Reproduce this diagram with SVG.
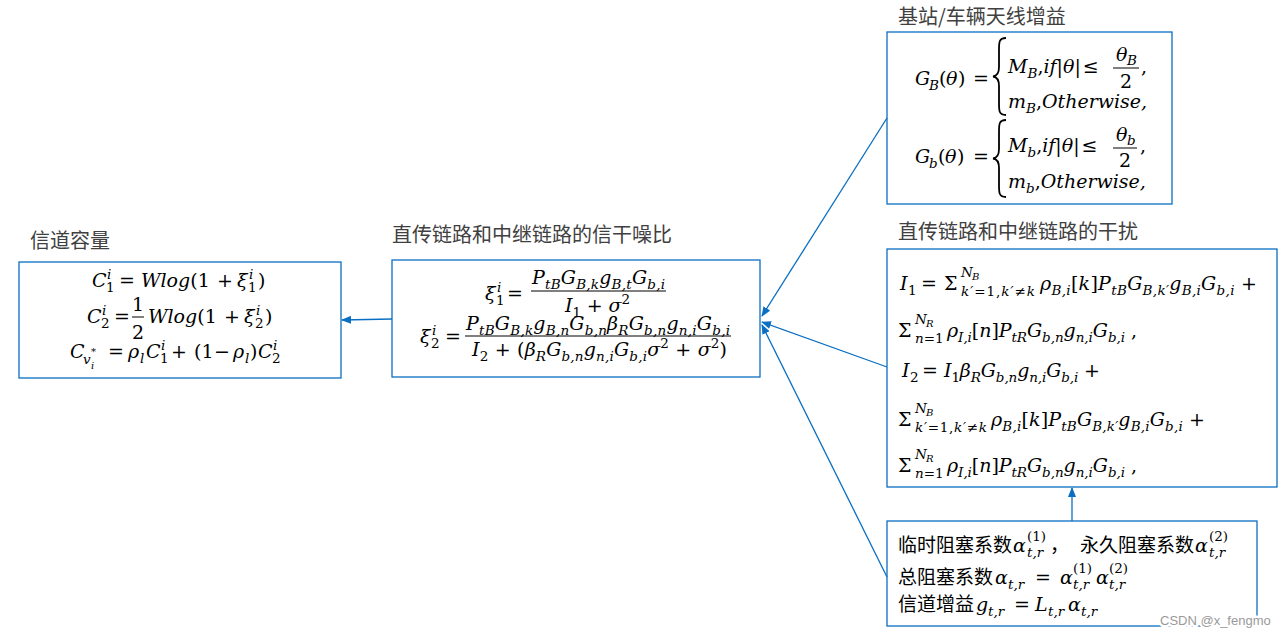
<svg xmlns="http://www.w3.org/2000/svg" width="1284" height="638" viewBox="0 0 1284 638">
<style>
.m{font-family:"DejaVu Serif","Liberation Serif",serif;font-style:italic;font-size:19px;fill:#000}
.u{font-style:normal}
.s{font-size:13.5px}
.ss{font-size:10px}
.cj{font-family:"Noto Sans CJK SC","Microsoft YaHei",sans-serif;font-size:19px;fill:#000}
.ti{font-family:"Noto Sans CJK SC","Microsoft YaHei",sans-serif;font-size:20px;fill:#404040}
.box{fill:#fff;stroke:#0a6fc2;stroke-width:1.3}
.bar{stroke:#000;stroke-width:1}
.br{fill:none;stroke:#000;stroke-width:1.8}
.cn{stroke:#0a6fc2;stroke-width:1.3;fill:none;marker-end:url(#ah)}
.wm{font-family:"Liberation Sans",Arial,sans-serif;font-size:13px;fill:#9a9a9a;stroke:#fff;stroke-width:5;paint-order:stroke;stroke-linejoin:round}
</style>
<defs>
<marker id="ah" markerUnits="userSpaceOnUse" markerWidth="10" markerHeight="8" refX="9" refY="4" orient="auto"><path d="M0,0 L10,4 L0,8 z" fill="#0a6fc2"/></marker>
</defs>
<rect width="1284" height="638" fill="#fff"/>

<g id="capacity">
<text class="ti" x="30" y="248">信道容量</text>
<rect class="box" x="19" y="262" width="322" height="116"/>
<text class="m"><tspan x="92" y="287">C</tspan><tspan class="s" x="107" y="279">i</tspan><tspan class="s u" x="106" y="292">1</tspan><tspan class="u" x="119" y="287">=</tspan><tspan x="141" y="287">Wlog</tspan><tspan class="u">(1</tspan><tspan class="u" x="217" y="287">+</tspan><tspan x="237" y="287">ξ</tspan><tspan class="s" x="249" y="279">i</tspan><tspan class="s u" x="248" y="292">1</tspan><tspan class="u" x="258" y="287">)</tspan></text>
<text class="m"><tspan x="87" y="323">C</tspan><tspan class="s" x="102" y="315">i</tspan><tspan class="s u" x="101" y="328">2</tspan><tspan class="u" x="114" y="323">=</tspan><tspan class="u" x="138" y="311" text-anchor="middle">1</tspan><tspan class="u" x="138" y="339" text-anchor="middle">2</tspan><tspan x="148" y="323">Wlog</tspan><tspan class="u">(1</tspan><tspan class="u" x="224" y="323">+</tspan><tspan x="244" y="323">ξ</tspan><tspan class="s" x="256" y="315">i</tspan><tspan class="s u" x="255" y="328">2</tspan><tspan class="u" x="265" y="323">)</tspan></text>
<line class="bar" x1="132" y1="317" x2="144" y2="317"/>
<text class="m"><tspan x="70" y="358">C</tspan><tspan class="s" x="83" y="364">v</tspan><tspan class="ss u" x="91" y="355">*</tspan><tspan class="ss" x="91" y="369">i</tspan><tspan class="u" x="108" y="358">=</tspan><tspan x="128" y="358">ρ</tspan><tspan class="s" x="140" y="363">l</tspan><tspan x="146" y="358">C</tspan><tspan class="s" x="161" y="350">i</tspan><tspan class="s u" x="160" y="363">1</tspan><tspan class="u" x="171" y="358">+</tspan><tspan class="u" x="194" y="358">(1</tspan><tspan class="u" x="214" y="358">−</tspan><tspan x="233" y="358">ρ</tspan><tspan class="s" x="245" y="363">l</tspan><tspan class="u" x="250" y="358">)</tspan><tspan x="258" y="358">C</tspan><tspan class="s" x="273" y="350">i</tspan><tspan class="s u" x="272" y="363">2</tspan></text>
</g>

<g id="sinr">
<text class="ti" x="392" y="242">直传链路和中继链路的信干噪比</text>
<rect class="box" x="392" y="260" width="368" height="117"/>
<text class="m"><tspan x="485" y="300">ξ</tspan><tspan class="s" x="497" y="292">i</tspan><tspan class="s u" x="496" y="305">1</tspan><tspan class="u" x="507" y="300">=</tspan></text>
<text class="m" x="532" y="284" textLength="133" lengthAdjust="spacing">P<tspan class="s" dy="4.5">tB</tspan><tspan dy="-4.5">G</tspan><tspan class="s" dy="4.5">B,k</tspan><tspan dy="-4.5">g</tspan><tspan class="s" dy="4.5">B,t</tspan><tspan dy="-4.5">G</tspan><tspan class="s" dy="4.5">b,i</tspan></text>
<line class="bar" x1="531" y1="291" x2="666" y2="291"/>
<text class="m" x="565" y="312" textLength="65" lengthAdjust="spacing">I<tspan class="s u" dy="5">1</tspan><tspan class="u" dy="-5"> + </tspan>σ<tspan class="s u" dy="-8">2</tspan></text>
<text class="m"><tspan x="420" y="343">ξ</tspan><tspan class="s" x="432" y="335">i</tspan><tspan class="s u" x="431" y="348">2</tspan><tspan class="u" x="445" y="343">=</tspan></text>
<text class="m" x="466" y="330" textLength="264" lengthAdjust="spacing">P<tspan class="s" dy="4.5">tB</tspan><tspan dy="-4.5">G</tspan><tspan class="s" dy="4.5">B,k</tspan><tspan dy="-4.5">g</tspan><tspan class="s" dy="4.5">B,n</tspan><tspan dy="-4.5">G</tspan><tspan class="s" dy="4.5">b,n</tspan><tspan dy="-4.5">β</tspan><tspan class="s" dy="4.5">R</tspan><tspan dy="-4.5">G</tspan><tspan class="s" dy="4.5">b,n</tspan><tspan dy="-4.5">g</tspan><tspan class="s" dy="4.5">n,i</tspan><tspan dy="-4.5">G</tspan><tspan class="s" dy="4.5">b,i</tspan></text>
<line class="bar" x1="465" y1="336" x2="731" y2="336"/>
<text class="m" x="472" y="356" textLength="255" lengthAdjust="spacing">I<tspan class="s u" dy="5">2</tspan><tspan class="u" dy="-5"> + (</tspan>β<tspan class="s" dy="5">R</tspan><tspan dy="-5">G</tspan><tspan class="s" dy="5">b,n</tspan><tspan dy="-5">g</tspan><tspan class="s" dy="5">n,i</tspan><tspan dy="-5">G</tspan><tspan class="s" dy="5">b,i</tspan><tspan dy="-5">σ</tspan><tspan class="s u" dy="-8">2</tspan><tspan class="u" dy="8"> + </tspan>σ<tspan class="s u" dy="-8">2</tspan><tspan class="u" dy="8">)</tspan></text>
</g>

<g id="antenna">
<text class="ti" x="898" y="24">基站/车辆天线增益</text>
<rect class="box" x="887" y="32" width="285" height="172"/>
<text class="m"><tspan x="915" y="85">G</tspan><tspan class="s" x="929" y="90">B</tspan><tspan class="u" x="939" y="85">(</tspan><tspan x="946" y="85">θ</tspan><tspan class="u" x="958" y="85">)</tspan><tspan class="u" x="973" y="85">=</tspan></text>
<path class="br" d="M1006,38 C999,38 999,42 999,50 L999,67 C999,73 997,76 993,76.5 C997,77 999,80 999,86 L999,103 C999,111 999,115 1006,115"/>
<text class="m" x="1008" y="73">M<tspan class="s" dy="5">B</tspan><tspan class="u" dy="-5">,</tspan>if<tspan class="u">|</tspan>θ<tspan class="u">|</tspan><tspan class="u" dx="2">≤</tspan></text>
<text class="m"><tspan x="1116" y="61">θ</tspan><tspan class="s" x="1127" y="65">B</tspan><tspan class="u" x="1126" y="88" text-anchor="middle">2</tspan><tspan class="u" x="1141" y="73">,</tspan></text>
<line class="bar" x1="1113" y1="68" x2="1139" y2="68"/>
<text class="m" x="1008" y="108">m<tspan class="s" dy="5">B</tspan><tspan class="u" dy="-5">,</tspan>Otherwise,</text>
<text class="m"><tspan x="915" y="163">G</tspan><tspan class="s" x="929" y="168">b</tspan><tspan class="u" x="938" y="163">(</tspan><tspan x="945" y="163">θ</tspan><tspan class="u" x="957" y="163">)</tspan><tspan class="u" x="973" y="163">=</tspan></text>
<path class="br" d="M1006,120 C999,120 999,124 999,132 L999,149 C999,155 997,158 993,158.5 C997,159 999,162 999,168 L999,185 C999,193 999,197 1006,197"/>
<text class="m" x="1008" y="152">M<tspan class="s" dy="5">b</tspan><tspan class="u" dy="-5">,</tspan>if<tspan class="u">|</tspan>θ<tspan class="u">|</tspan><tspan class="u" dx="2">≤</tspan></text>
<text class="m"><tspan x="1116" y="141">θ</tspan><tspan class="s" x="1127" y="145">b</tspan><tspan class="u" x="1125" y="167" text-anchor="middle">2</tspan><tspan class="u" x="1140" y="152">,</tspan></text>
<line class="bar" x1="1113" y1="148" x2="1137" y2="148"/>
<text class="m" x="1008" y="188">m<tspan class="s" dy="5">b</tspan><tspan class="u" dy="-5">,</tspan>Otherwise,</text>
</g>

<g id="interference">
<text class="ti" x="898" y="239">直传链路和中继链路的干扰</text>
<rect class="box" x="887" y="249" width="390" height="238"/>
<text class="m"><tspan x="900" y="290">I</tspan><tspan class="s u" x="908" y="295">1</tspan><tspan class="u" x="921" y="290">=</tspan><tspan class="u" x="944" y="290">Σ</tspan><tspan class="s" x="961" y="277">N</tspan><tspan class="ss" x="972" y="280">B</tspan></text>
<text class="m s" x="961" y="296" textLength="74" lengthAdjust="spacing">k′<tspan class="u">=1,</tspan>k′<tspan class="u">≠</tspan>k</text>
<text class="m" x="1040" y="290" textLength="217" lengthAdjust="spacing">ρ<tspan class="s" dy="5">B,i</tspan><tspan class="u" dy="-5">[</tspan>k<tspan class="u">]</tspan>P<tspan class="s" dy="5">tB</tspan><tspan dy="-5">G</tspan><tspan class="s" dy="5">B,k′</tspan><tspan dy="-5">g</tspan><tspan class="s" dy="5">B,i</tspan><tspan dy="-5">G</tspan><tspan class="s" dy="5">b,i</tspan><tspan class="u" dy="-5"> +</tspan></text>
<text class="m"><tspan class="u" x="898" y="337">Σ</tspan><tspan class="s" x="915" y="324">N</tspan><tspan class="ss" x="926" y="327">R</tspan><tspan class="s" x="915" y="343">n</tspan><tspan class="s u">=1</tspan></text>
<text class="m" x="947" y="337" textLength="190" lengthAdjust="spacing">ρ<tspan class="s" dy="5">I,i</tspan><tspan class="u" dy="-5">[</tspan>n<tspan class="u">]</tspan>P<tspan class="s" dy="5">tR</tspan><tspan dy="-5">G</tspan><tspan class="s" dy="5">b,n</tspan><tspan dy="-5">g</tspan><tspan class="s" dy="5">n,i</tspan><tspan dy="-5">G</tspan><tspan class="s" dy="5">b,i</tspan><tspan class="u" dy="-5"> ,</tspan></text>
<text class="m"><tspan x="902" y="377">I</tspan><tspan class="s u" x="910" y="382">2</tspan><tspan class="u" x="922" y="377">=</tspan></text>
<text class="m" x="944" y="377" textLength="156" lengthAdjust="spacing">I<tspan class="s u" dy="5">1</tspan><tspan dy="-5">β</tspan><tspan class="s" dy="5">R</tspan><tspan dy="-5">G</tspan><tspan class="s" dy="5">b,n</tspan><tspan dy="-5">g</tspan><tspan class="s" dy="5">n,i</tspan><tspan dy="-5">G</tspan><tspan class="s" dy="5">b,i</tspan><tspan class="u" dy="-5"> +</tspan></text>
<text class="m"><tspan class="u" x="898" y="426">Σ</tspan><tspan class="s" x="915" y="413">N</tspan><tspan class="ss" x="926" y="416">B</tspan></text>
<text class="m s" x="915" y="432" textLength="72" lengthAdjust="spacing">k′<tspan class="u">=1,</tspan>k′<tspan class="u">≠</tspan>k</text>
<text class="m" x="991" y="426" textLength="214" lengthAdjust="spacing">ρ<tspan class="s" dy="5">B,i</tspan><tspan class="u" dy="-5">[</tspan>k<tspan class="u">]</tspan>P<tspan class="s" dy="5">tB</tspan><tspan dy="-5">G</tspan><tspan class="s" dy="5">B,k′</tspan><tspan dy="-5">g</tspan><tspan class="s" dy="5">B,i</tspan><tspan dy="-5">G</tspan><tspan class="s" dy="5">b,i</tspan><tspan class="u" dy="-5"> +</tspan></text>
<text class="m"><tspan class="u" x="898" y="472">Σ</tspan><tspan class="s" x="915" y="459">N</tspan><tspan class="ss" x="926" y="462">R</tspan><tspan class="s" x="915" y="478">n</tspan><tspan class="s u">=1</tspan></text>
<text class="m" x="947" y="472" textLength="190" lengthAdjust="spacing">ρ<tspan class="s" dy="5">I,i</tspan><tspan class="u" dy="-5">[</tspan>n<tspan class="u">]</tspan>P<tspan class="s" dy="5">tR</tspan><tspan dy="-5">G</tspan><tspan class="s" dy="5">b,n</tspan><tspan dy="-5">g</tspan><tspan class="s" dy="5">n,i</tspan><tspan dy="-5">G</tspan><tspan class="s" dy="5">b,i</tspan><tspan class="u" dy="-5"> ,</tspan></text>
</g>

<g id="blockage">
<rect class="box" x="887" y="521" width="370" height="105"/>
<text class="cj" x="898" y="552">临时阻塞系数</text>
<text class="m"><tspan x="1013" y="552">α</tspan><tspan class="s u" x="1027" y="541">(1)</tspan><tspan class="s" x="1027" y="557">t,r</tspan></text>
<text class="cj" x="1050" y="552">，</text>
<text class="cj" x="1080" y="552">永久阻塞系数</text>
<text class="m"><tspan x="1195" y="552">α</tspan><tspan class="s u" x="1209" y="541">(2)</tspan><tspan class="s" x="1209" y="557">t,r</tspan></text>
<text class="cj" x="898" y="584">总阻塞系数</text>
<text class="m"><tspan x="995" y="584">α</tspan><tspan class="s" x="1008" y="589">t,r</tspan><tspan class="u" x="1035" y="584">=</tspan><tspan x="1060" y="584">α</tspan><tspan class="s u" x="1073" y="573">(1)</tspan><tspan class="s" x="1073" y="589">t,r</tspan><tspan x="1096" y="584">α</tspan><tspan class="s u" x="1109" y="573">(2)</tspan><tspan class="s" x="1109" y="589">t,r</tspan></text>
<text class="cj" x="898" y="611">信道增益</text>
<text class="m"><tspan x="976" y="611">g</tspan><tspan class="s" x="988" y="616">t,r</tspan><tspan class="u" x="1014" y="611">=</tspan><tspan x="1035" y="611">L</tspan><tspan class="s" x="1048" y="616">t,r</tspan><tspan x="1068" y="611">α</tspan><tspan class="s" x="1081" y="616">t,r</tspan></text>
</g>

<g id="connectors">
<line class="cn" x1="392" y1="319" x2="342" y2="320"/>
<line class="cn" x1="887" y1="118" x2="762" y2="316"/>
<line class="cn" x1="887" y1="367" x2="762" y2="322"/>
<line class="cn" x1="887" y1="577" x2="762" y2="325"/>
<line class="cn" x1="1072" y1="521" x2="1072" y2="488"/>
</g>

<text class="wm" x="1160" y="625">CSDN @x_fengmo</text>
</svg>
